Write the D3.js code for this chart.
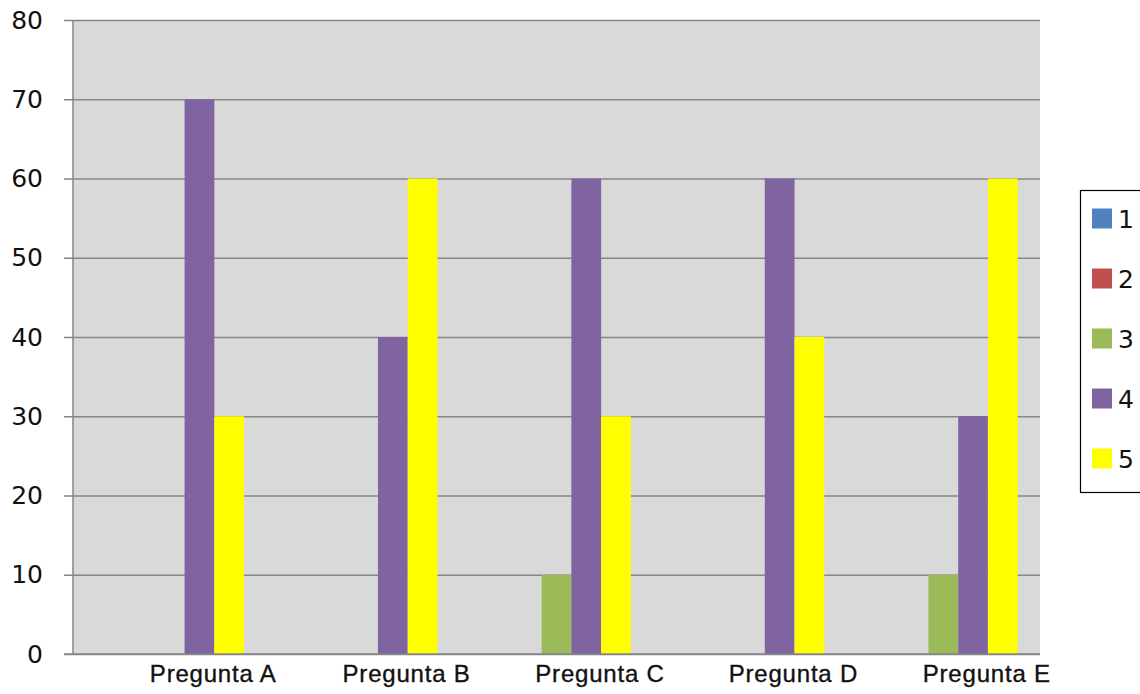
<!DOCTYPE html>
<html>
<head>
<meta charset="utf-8">
<script src="https://cdn.jsdelivr.net/npm/d3@7"></script>
<style>
  html, body { margin: 0; padding: 0; background: #ffffff; }
  svg { display: block; }
</style>
</head>
<body>
<svg id="chart" width="1140" height="694"></svg>
<script>
// Categories, series and values
const categories = ["Pregunta A", "Pregunta B", "Pregunta C", "Pregunta D", "Pregunta E"];
const seriesNames = ["1", "2", "3", "4", "5"];
const serie1 = [0, 0, 0, 0, 0];
const serie2 = [0, 0, 0, 0, 0];
const serie3 = [0, 0, 10, 0, 10];
const serie4 = [70, 40, 60, 60, 30];
const serie5 = [30, 60, 30, 40, 60];
const yTicks = [0, 10, 20, 30, 40, 50, 60, 70, 80];
const seriesColors = ["#4F81BD", "#C0504D", "#9BBB59", "#8064A2", "#FFFF00"];

const seriesValues = [serie1, serie2, serie3, serie4, serie5];

const svg = d3.select("#chart");
const plot = { left: 73, right: 1040, top: 20, bottom: 654 };

const x0 = d3.scaleBand().domain(categories).range([plot.left, plot.right]).padding(0);
const bw = x0.bandwidth();
// five bars per group with a 150% gap split evenly on both sides
const x1 = d3.scaleBand().domain(seriesNames)
  .range([bw * 0.75 / 6.5, bw * 5.75 / 6.5]).padding(0);
const y = d3.scaleLinear().domain([0, 80]).range([plot.bottom, plot.top]);

// plot background
svg.append("rect")
  .attr("x", plot.left).attr("y", plot.top)
  .attr("width", plot.right - plot.left).attr("height", plot.bottom - plot.top)
  .attr("fill", "#D9D9D9");

// horizontal gridlines with tick stubs
const yAxis = d3.axisLeft(y).tickValues(yTicks).tickSize(-(plot.right - plot.left)).tickPadding(30).tickFormat(d3.format("d"));
const gy = svg.append("g").attr("transform", `translate(${plot.left},0)`).call(yAxis);
gy.select(".domain").remove();
gy.selectAll(".tick line")
  .attr("x1", -9)
  .attr("stroke", "#868686").attr("stroke-width", 1.5);
gy.selectAll(".tick text")
  .attr("font-family", "DejaVu Sans, Verdana, sans-serif")
  .attr("font-size", 25).attr("fill", "#111");

// left axis line
svg.append("line")
  .attr("x1", plot.left).attr("x2", plot.left)
  .attr("y1", plot.top).attr("y2", plot.bottom)
  .attr("stroke", "#868686").attr("stroke-width", 1.5);

// bars
const groups = svg.append("g").selectAll("g")
  .data(categories)
  .join("g")
  .attr("transform", d => `translate(${x0(d)},0)`);

groups.selectAll("rect")
  .data((c, i) => seriesNames.map((s, j) => ({ s, v: seriesValues[j][i], color: seriesColors[j] })))
  .join("rect")
  .attr("x", d => x1(d.s))
  .attr("width", x1.bandwidth())
  .attr("y", d => y(d.v))
  .attr("height", d => y(0) - y(d.v))
  .attr("fill", d => d.color);

// redraw zero line over the bars
svg.append("line")
  .attr("x1", plot.left - 9).attr("x2", plot.right)
  .attr("y1", y(0)).attr("y2", y(0))
  .attr("stroke", "#868686").attr("stroke-width", 1.5);

// category labels
const gx = svg.append("g").attr("transform", `translate(0,${plot.bottom})`)
  .call(d3.axisBottom(x0).tickSize(0).tickPadding(0));
gx.select(".domain").remove();
gx.selectAll(".tick text")
  .attr("x", 43.5)
  .attr("y", 28)
  .attr("dy", 0)
  .attr("font-family", "Liberation Sans, Arial, sans-serif")
  .attr("font-size", 24)
  .attr("letter-spacing", "0.8px")
  .attr("stroke", "#111").attr("stroke-width", 0.35)
  .attr("fill", "#111");

// legend
const legend = svg.append("g");
legend.append("rect")
  .attr("x", 1080.5).attr("y", 190.5)
  .attr("width", 80).attr("height", 302)
  .attr("fill", "#fff").attr("stroke", "#000").attr("stroke-width", 1.2);

const ly = d3.scalePoint().domain(seriesNames).range([218.5, 458.5]);
const items = legend.selectAll("g.item")
  .data(seriesNames)
  .join("g").attr("class", "item")
  .attr("transform", d => `translate(0,${ly(d)})`);
items.append("rect")
  .attr("x", 1092).attr("y", -10)
  .attr("width", 20).attr("height", 20)
  .attr("fill", (d, i) => seriesColors[i]);
items.append("text")
  .attr("x", 1118).attr("y", 0).attr("dy", "0.36em")
  .attr("font-family", "DejaVu Sans, Verdana, sans-serif")
  .attr("font-size", 25)
  .attr("fill", "#111")
  .text(d => d);
</script>
</body>
</html>
